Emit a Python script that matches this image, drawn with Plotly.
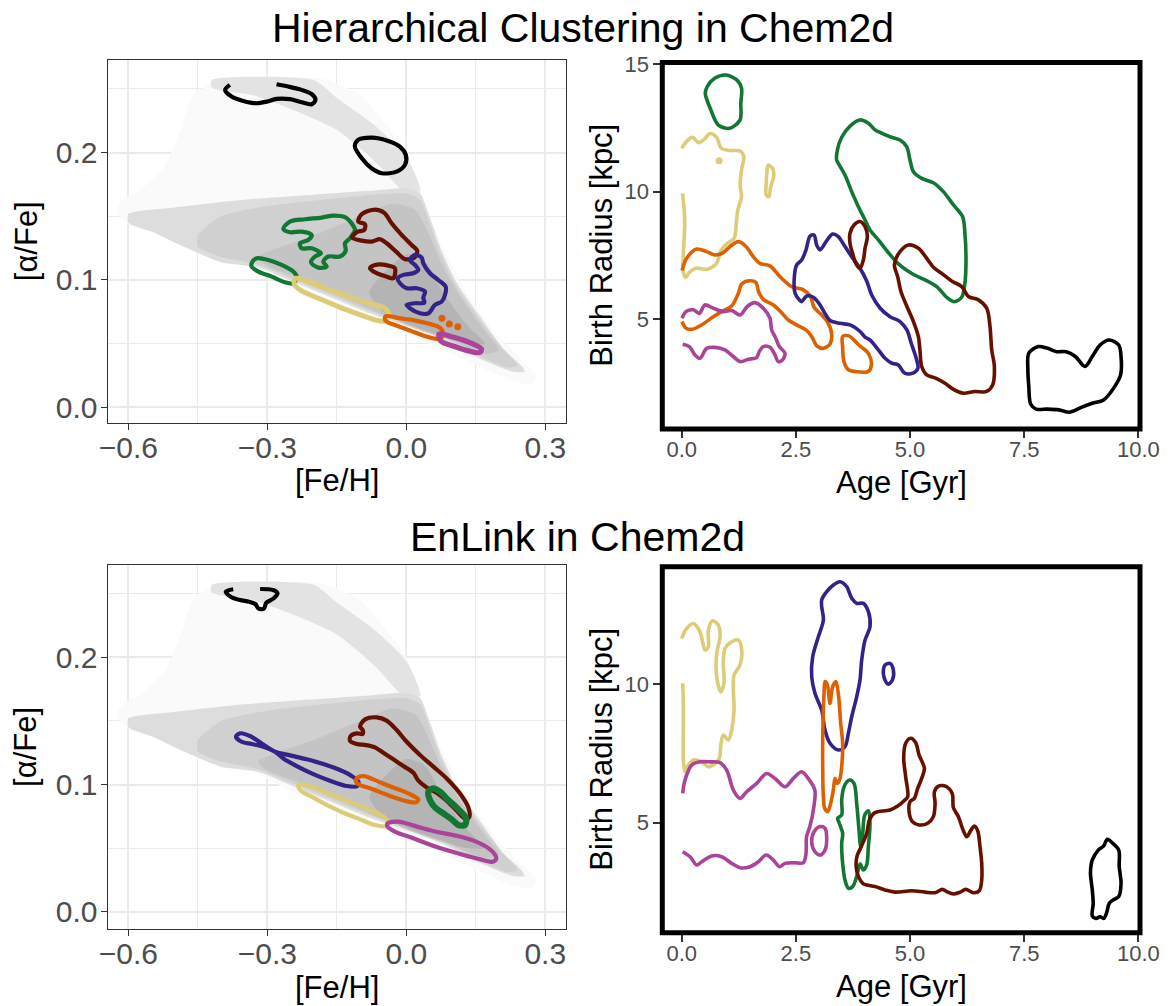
import plotly.graph_objects as go

FONT = "Liberation Sans"
BLACK = "#000000"; GREEN = "#117733"; BROWN = "#661100"; INDIGO = "#332288"
ORANGE = "#DD6100"; SAND = "#DDCC77"; MAGENTA = "#AA4499"

# ---------------- density background (Chem2d plane) ----------------
DENS_SPARSE_X = [-0.62, -0.57, -0.52, -0.49, -0.46, -0.40, -0.30, -0.18, -0.10, -0.05, 0.00, 0.03, 0.05, 0.08, 0.13, 0.19, 0.24, 0.28, 0.27, 0.22, 0.14, 0.05, -0.05, -0.15, -0.25, -0.33, -0.40, -0.50, -0.58, -0.62]
DENS_SPARSE_Y = [0.160, 0.172, 0.19, 0.215, 0.245, 0.258, 0.259, 0.258, 0.245, 0.225, 0.20, 0.17, 0.15, 0.125, 0.09, 0.06, 0.04, 0.025, 0.018, 0.022, 0.035, 0.05, 0.065, 0.08, 0.095, 0.11, 0.125, 0.135, 0.14, 0.15]
DENS_BAND_X = [-0.42, -0.20, -0.15, -0.07, 0.00, 0.03, 0.00, -0.07, -0.15, -0.24, -0.33, -0.42]
DENS_BAND_Y = [0.257, 0.257, 0.243, 0.222, 0.197, 0.17, 0.168, 0.194, 0.218, 0.233, 0.245, 0.251]
DENS_TRI_X = [-0.60, -0.50, -0.35, -0.20, -0.08, 0.00, 0.03, 0.05, 0.075, 0.11, 0.16, 0.21, 0.25, 0.255, 0.23, 0.16, 0.08, 0.00, -0.08, -0.16, -0.24, -0.32, -0.40, -0.48, -0.55, -0.60]
DENS_TRI_Y = [0.152, 0.157, 0.163, 0.167, 0.170, 0.172, 0.168, 0.15, 0.124, 0.097, 0.071, 0.046, 0.032, 0.028, 0.028, 0.038, 0.053, 0.064, 0.074, 0.086, 0.098, 0.110, 0.114, 0.126, 0.138, 0.145]
DENS_MID_X = [-0.45, -0.40, -0.30, -0.18, -0.07, 0.00, 0.03, 0.05, 0.075, 0.11, 0.16, 0.21, 0.24, 0.22, 0.16, 0.08, 0.00, -0.08, -0.16, -0.24, -0.32, -0.40, -0.45]
DENS_MID_Y = [0.135, 0.150, 0.158, 0.163, 0.167, 0.168, 0.163, 0.145, 0.120, 0.094, 0.068, 0.045, 0.033, 0.031, 0.040, 0.055, 0.066, 0.076, 0.088, 0.100, 0.112, 0.118, 0.126]
DENS_CORE_X = [-0.32, -0.20, -0.10, -0.03, 0.02, 0.05, 0.08, 0.12, 0.17, 0.20, 0.17, 0.10, 0.02, -0.06, -0.14, -0.22, -0.30]
DENS_CORE_Y = [0.118, 0.135, 0.150, 0.160, 0.155, 0.135, 0.110, 0.085, 0.060, 0.045, 0.042, 0.052, 0.062, 0.074, 0.087, 0.100, 0.111]
DENS_DARK_X = [-0.05, 0.00, 0.04, 0.08, 0.13, 0.17, 0.13, 0.06, 0.00, -0.05, -0.08]
DENS_DARK_Y = [0.105, 0.120, 0.115, 0.090, 0.065, 0.050, 0.050, 0.058, 0.066, 0.075, 0.090]
DENS_LAYERS = [(DENS_SPARSE_X, DENS_SPARSE_Y, "#FAFAFA"), (DENS_BAND_X, DENS_BAND_Y, "#E3E3E3"),
               (DENS_TRI_X, DENS_TRI_Y, "#DDDDDD"), (DENS_MID_X, DENS_MID_Y, "#D0D0D0"),
               (DENS_CORE_X, DENS_CORE_Y, "#C4C4C4"), (DENS_DARK_X, DENS_DARK_Y, "#B4B4B4")]

# ---------------- Panel 1: Hierarchical clustering, [Fe/H] vs [alpha/Fe] ----------------
P1_BLACK_A = ([-0.381, -0.391, -0.377, -0.352, -0.323, -0.301, -0.280, -0.251, -0.226, -0.204, -0.196, -0.204, -0.226, -0.255, -0.280],
              [0.2532, 0.2493, 0.2440, 0.2406, 0.2388, 0.2401, 0.2422, 0.2420, 0.2396, 0.2380, 0.2414, 0.2459, 0.2493, 0.2519, 0.2537])
P1_BLACK_B = ([-0.075, -0.039, -0.014, -0.001, -0.003, -0.021, -0.053, -0.075, -0.096, -0.111, -0.104],
              [0.2118, 0.2092, 0.2048, 0.1982, 0.1904, 0.1851, 0.1838, 0.1877, 0.1956, 0.2048, 0.2100])
P1_GREEN_A = ([-0.2655, -0.2511, -0.2187, -0.1827, -0.1576, -0.1324, -0.1165, -0.1108, -0.1216, -0.1324, -0.1309, -0.1432, -0.1683, -0.1791, -0.1719, -0.1899, -0.2058, -0.1971, -0.1842, -0.2043, -0.2259, -0.2295, -0.2115, -0.2043, -0.2259, -0.2511],
              [0.1401, 0.1459, 0.1477, 0.1490, 0.1506, 0.1493, 0.1437, 0.1393, 0.1328, 0.1288, 0.1228, 0.1184, 0.1184, 0.1144, 0.1105, 0.1097, 0.1139, 0.1184, 0.1210, 0.1249, 0.1249, 0.1288, 0.1314, 0.1354, 0.1380, 0.1375])
P1_GREEN_B = ([-0.3338, -0.3230, -0.2978, -0.2691, -0.2439, -0.2367, -0.2439, -0.2619, -0.2906, -0.3194, -0.3338],
              [0.1131, 0.1170, 0.1157, 0.1118, 0.1066, 0.1026, 0.0974, 0.0982, 0.1026, 0.1066, 0.1105])
P1_BROWN_A = ([-0.0964, -0.0676, -0.0475, -0.0317, -0.0101, 0.0115, 0.0237, 0.0173, -0.0029, -0.0209, -0.0424, -0.0568, -0.0748, -0.0964, -0.1165, -0.1072, -0.0906, -0.0892, -0.1036],
              [0.1516, 0.1553, 0.1527, 0.1445, 0.1354, 0.1275, 0.1228, 0.1176, 0.1163, 0.1218, 0.1288, 0.1320, 0.1301, 0.1309, 0.1333, 0.1375, 0.1393, 0.1438, 0.1459])
P1_BROWN_B = ([-0.0784, -0.0676, -0.0388, -0.0245, -0.0281, -0.0424, -0.0640],
              [0.1092, 0.1118, 0.1113, 0.1092, 0.1013, 0.1026, 0.1053])
P1_INDIGO = ([0.0187, 0.0331, 0.0367, 0.0511, 0.0691, 0.0849, 0.0835, 0.0763, 0.0619, 0.0475, 0.0295, 0.0079, 0.0007, 0.0173, 0.0388, 0.0367, 0.0403, 0.0223, 0.0007, -0.0137, -0.0187, -0.0065, 0.0151, 0.0259, 0.0187, 0.0079],
             [0.1197, 0.1176, 0.1131, 0.1053, 0.1000, 0.0948, 0.0882, 0.0830, 0.0804, 0.0738, 0.0738, 0.0778, 0.0804, 0.0817, 0.0822, 0.0861, 0.0909, 0.0935, 0.0935, 0.0974, 0.1013, 0.1040, 0.1053, 0.1079, 0.1118, 0.1157])
P1_SAND = ([-0.2403, -0.2223, -0.1755, -0.1252, -0.0820, -0.0460, -0.0374, -0.0460, -0.0676, -0.1036, -0.1468, -0.1899, -0.2259, -0.2417],
           [0.1013, 0.1000, 0.0935, 0.0869, 0.0817, 0.0778, 0.0725, 0.0678, 0.0686, 0.0731, 0.0791, 0.0856, 0.0914, 0.0966])
P1_ORANGE = ([-0.045, -0.015, 0.015, 0.045, 0.070, 0.078, 0.075, 0.060, 0.040, 0.010, -0.020, -0.045],
             [0.0715, 0.0700, 0.0685, 0.0660, 0.0630, 0.0600, 0.0540, 0.0540, 0.0560, 0.0600, 0.0640, 0.0680])
P1_ORANGE_DOTS = ([0.077, 0.093, 0.111], [0.0699, 0.0655, 0.0633])
P1_MAGENTA = ([0.0708, 0.1027, 0.1425, 0.1623, 0.1584, 0.1345, 0.1027, 0.0748],
              [0.0575, 0.0550, 0.0500, 0.0458, 0.0430, 0.0443, 0.0480, 0.0518])

# ---------------- Panel 2: Hierarchical clustering, Age vs Birth radius ----------------
P2_GREEN_A = ([0.557, 0.721, 0.966, 1.212, 1.310, 1.294, 1.278, 1.048, 0.803, 0.639, 0.516],
              [14.11, 14.44, 14.57, 14.37, 14.05, 13.46, 12.81, 12.48, 12.61, 13.20, 13.85])
P2_SAND = ([0.0, 0.106, 0.229, 0.377, 0.491, 0.622, 0.762, 0.868, 1.048, 1.278, 1.360, 1.310, 1.278, 1.310, 1.228, 1.196, 1.147, 1.007, 0.868, 0.762, 0.557, 0.311, 0.164, 0.090, 0.033, 0.041, 0.066, 0.049, 0.016],
           [11.70, 11.96, 12.13, 11.92, 12.05, 12.28, 12.13, 11.70, 11.61, 11.59, 11.37, 10.85, 10.26, 9.80, 9.28, 8.76, 8.17, 7.98, 7.72, 7.19, 6.96, 7.00, 6.83, 6.64, 6.87, 7.72, 8.76, 9.41, 9.93])
P2_SAND_DOT = ([0.819], [11.21])
P2_SAND_B = ([1.892, 1.990, 2.015, 1.949, 1.908, 1.851, 1.851, 1.867],
             [11.04, 10.91, 10.59, 10.20, 9.80, 9.87, 10.33, 10.78])
P2_ORANGE_A = ([0.007, 0.109, 0.328, 0.547, 0.730, 0.912, 1.058, 1.241, 1.408, 1.568, 1.714, 1.933, 2.152, 2.408, 2.664, 2.824, 2.897, 3.042, 3.188, 3.283, 3.247, 3.100, 2.957, 2.847, 2.722, 2.517, 2.335, 2.167, 2.006, 1.786, 1.684, 1.626, 1.494, 1.312, 1.241, 1.094, 0.912, 0.693, 0.436, 0.232, 0.094, 0.007],
               [6.91, 7.39, 7.75, 7.65, 7.52, 7.61, 7.85, 8.04, 7.85, 7.45, 7.19, 7.09, 6.67, 6.28, 6.15, 5.89, 5.47, 5.21, 4.91, 4.45, 4.03, 3.86, 3.96, 4.32, 4.58, 4.78, 4.97, 5.30, 5.56, 5.78, 6.08, 6.44, 6.51, 6.38, 6.02, 5.52, 5.34, 5.10, 4.78, 4.61, 4.65, 4.91])
P2_ORANGE_B = ([3.523, 3.661, 3.878, 4.085, 4.154, 4.085, 3.878, 3.651, 3.553, 3.523],
               [4.32, 4.35, 3.99, 3.67, 3.21, 2.95, 2.94, 3.02, 3.34, 3.93])
P2_MAGENTA = ([0.007, 0.094, 0.255, 0.384, 0.509, 0.693, 0.912, 1.094, 1.277, 1.437, 1.605, 1.786, 1.933, 1.970, 2.043, 2.137, 2.261, 2.210, 2.115, 2.043, 1.933, 1.786, 1.698, 1.640, 1.457, 1.277, 1.130, 0.947, 0.730, 0.546, 0.400, 0.291, 0.167, 0.021],
              [5.04, 5.30, 5.37, 5.23, 5.56, 5.43, 5.30, 5.34, 5.17, 5.50, 5.65, 5.43, 5.04, 4.58, 4.32, 3.93, 3.67, 3.41, 3.34, 3.60, 3.90, 3.93, 3.73, 3.50, 3.43, 3.34, 3.54, 3.80, 3.90, 3.86, 3.47, 3.60, 3.93, 4.02])
P2_INDIGO = ([2.592, 2.482, 2.467, 2.518, 2.627, 2.722, 2.810, 2.897, 2.955, 3.029, 3.160, 3.305, 3.429, 3.554, 3.722, 3.904, 4.050, 4.160, 4.346, 4.561, 4.780, 4.931, 5.026, 5.135, 5.172, 5.063, 4.880, 4.744, 4.598, 4.452, 4.306, 4.122, 4.014, 3.904, 3.685, 3.466, 3.247, 3.137, 3.029, 2.883, 2.737, 2.627],
             [5.73, 6.02, 6.67, 7.13, 7.32, 7.72, 8.26, 8.30, 7.91, 7.72, 8.04, 8.34, 8.24, 7.91, 7.45, 7.00, 6.50, 5.95, 5.43, 5.10, 4.91, 4.58, 4.06, 3.47, 3.08, 2.89, 2.89, 3.21, 3.28, 3.47, 3.80, 4.19, 4.30, 4.52, 4.78, 4.84, 4.95, 5.23, 5.56, 5.86, 5.91, 5.69])
P2_GREEN_B = ([3.393, 3.408, 3.503, 3.686, 3.904, 4.087, 4.233, 4.306, 4.561, 4.780, 4.926, 4.999, 5.074, 5.255, 5.510, 5.729, 5.950, 6.151, 6.201, 6.225, 6.201, 6.130, 5.969, 5.802, 5.583, 5.328, 5.028, 4.744, 4.540, 4.306, 4.123, 4.014, 3.868, 3.722, 3.575, 3.451],
              [11.24, 11.63, 12.13, 12.57, 12.81, 12.68, 12.42, 12.35, 12.15, 12.02, 11.76, 11.24, 10.78, 10.52, 10.35, 10.00, 9.48, 9.02, 8.37, 7.32, 6.41, 5.86, 5.69, 5.86, 6.28, 6.54, 6.80, 7.17, 7.58, 8.11, 8.50, 8.89, 9.41, 10.00, 10.65, 11.04])
P2_BROWN_A = ([3.685, 3.773, 3.904, 4.014, 4.065, 4.014, 3.977, 3.904, 3.816, 3.743, 3.685],
              [8.37, 8.69, 8.83, 8.63, 8.24, 7.78, 7.32, 7.00, 7.17, 7.58, 7.97])
P2_BROWN_B = ([4.656, 4.744, 4.963, 5.182, 5.365, 5.511, 5.707, 5.927, 6.132, 6.278, 6.497, 6.679, 6.751, 6.788, 6.846, 6.809, 6.679, 6.423, 6.167, 5.970, 5.765, 5.560, 5.365, 5.255, 5.219, 5.182, 5.074, 4.927, 4.802, 4.729],
              [7.13, 7.56, 7.91, 7.78, 7.39, 7.04, 6.78, 6.48, 6.28, 5.89, 5.76, 5.43, 4.71, 3.80, 3.15, 2.43, 2.17, 2.17, 2.10, 2.23, 2.49, 2.69, 2.82, 3.15, 3.73, 4.32, 4.91, 5.52, 6.08, 6.67])
P2_BLACK = ([7.60, 7.81, 8.01, 8.21, 8.42, 8.62, 8.83, 8.99, 9.16, 9.36, 9.57, 9.62, 9.61, 9.48, 9.24, 8.99, 8.75, 8.50, 8.26, 8.01, 7.76, 7.64, 7.60, 7.58],
            [3.67, 3.93, 3.86, 3.73, 3.73, 3.54, 3.15, 3.54, 3.99, 4.19, 3.99, 3.54, 2.82, 2.36, 1.84, 1.71, 1.55, 1.36, 1.45, 1.48, 1.48, 1.68, 2.36, 3.02])

# ---------------- Panel 3: EnLink, [Fe/H] vs [alpha/Fe] ----------------
P3_BLACK = ([-0.3736, -0.3896, -0.3792, -0.3592, -0.3393, -0.3259, -0.3194, -0.3076, -0.3020, -0.2861, -0.2781, -0.2875, -0.3155],
            [0.2535, 0.2516, 0.2476, 0.2450, 0.2437, 0.2419, 0.2385, 0.2382, 0.2429, 0.2464, 0.2503, 0.2529, 0.2537])
P3_INDIGO = ([-0.3676, -0.3589, -0.3374, -0.3122, -0.2834, -0.2510, -0.2150, -0.1791, -0.1431, -0.1179, -0.1035, -0.1057, -0.1287, -0.1647, -0.2007, -0.2366, -0.2654, -0.2834, -0.3086, -0.3338, -0.3553],
             [0.1376, 0.1402, 0.1381, 0.1323, 0.1258, 0.1229, 0.1198, 0.1161, 0.1114, 0.1067, 0.1022, 0.0988, 0.0988, 0.1030, 0.1082, 0.1145, 0.1205, 0.1258, 0.1297, 0.1318, 0.1336])
P3_ORANGE = ([-0.1071, -0.0927, -0.0712, -0.0424, -0.0136, 0.0116, 0.0260, 0.0209, 0.0044, -0.0208, -0.0496, -0.0783, -0.0999, -0.1086],
             [0.1048, 0.1067, 0.1040, 0.0996, 0.0957, 0.0917, 0.0883, 0.0860, 0.0865, 0.0891, 0.0930, 0.0970, 0.0996, 0.1022])
P3_SAND = ([-0.2330, -0.2150, -0.1863, -0.1503, -0.1143, -0.0784, -0.0496, -0.0388, -0.0438, -0.0676, -0.0999, -0.1359, -0.1719, -0.2043, -0.2294],
           [0.0996, 0.0996, 0.0957, 0.0904, 0.0852, 0.0799, 0.0747, 0.0708, 0.0673, 0.0681, 0.0726, 0.0778, 0.0839, 0.0904, 0.0957])
P3_BROWN = ([-0.0999, -0.0891, -0.0640, -0.0424, -0.0208, 0.0008, 0.0296, 0.0584, 0.0871, 0.1159, 0.1339, 0.1361, 0.1274, 0.1087, 0.0871, 0.0656, 0.0440, 0.0260, 0.0152, -0.0064, -0.0280, -0.0496, -0.0676, -0.0870, -0.1071, -0.1215, -0.1201, -0.1071, -0.0942, -0.0942],
            [0.1454, 0.1512, 0.1528, 0.1502, 0.1428, 0.1336, 0.1232, 0.1140, 0.1048, 0.0930, 0.0820, 0.0747, 0.0731, 0.0794, 0.0873, 0.0936, 0.0977, 0.1030, 0.1093, 0.1145, 0.1198, 0.1250, 0.1292, 0.1310, 0.1318, 0.1344, 0.1381, 0.1402, 0.1397, 0.1428])
P3_GREEN = ([0.0476, 0.0584, 0.0728, 0.0907, 0.1123, 0.1289, 0.1267, 0.1123, 0.0979, 0.0799, 0.0619, 0.0511],
            [0.0943, 0.0970, 0.0943, 0.0878, 0.0805, 0.0734, 0.0681, 0.0681, 0.0726, 0.0773, 0.0820, 0.0878])
P3_MAGENTA = ([-0.0406, -0.0168, 0.0231, 0.0628, 0.1106, 0.1505, 0.1823, 0.1943, 0.1863, 0.1505, 0.1106, 0.0628, 0.0151, -0.0248, -0.0406],
              [0.0694, 0.0708, 0.0669, 0.0630, 0.0595, 0.0551, 0.0485, 0.0420, 0.0393, 0.0420, 0.0459, 0.0512, 0.0577, 0.0630, 0.0669])

# ---------------- Panel 4: EnLink, Age vs Birth radius ----------------
P4_SAND = ([0.0, 0.094, 0.255, 0.401, 0.511, 0.583, 0.583, 0.678, 0.803, 0.839, 0.766, 0.766, 0.854, 0.926, 0.912, 0.948, 1.094, 1.240, 1.314, 1.277, 1.146, 1.131, 1.146, 1.094, 1.021, 0.912, 0.861, 0.824, 0.730, 0.583, 0.437, 0.255, 0.145, 0.072, 0.036, 0.036, 0.036, 0.021],
           [11.66, 11.99, 12.20, 11.90, 11.24, 11.36, 11.96, 12.30, 12.14, 11.72, 11.12, 10.28, 9.73, 10.04, 10.76, 11.30, 11.54, 11.60, 11.24, 10.70, 10.34, 9.80, 9.07, 8.35, 7.99, 8.17, 7.87, 7.33, 7.14, 7.02, 7.20, 7.27, 7.08, 6.84, 7.27, 8.35, 9.31, 10.04])
P4_MAGENTA = ([0.021, 0.072, 0.218, 0.401, 0.620, 0.839, 0.985, 1.131, 1.277, 1.422, 1.641, 1.860, 2.043, 2.262, 2.445, 2.627, 2.769, 2.915, 2.894, 2.806, 2.733, 2.722, 2.663, 2.481, 2.262, 2.138, 2.007, 1.846, 1.679, 1.495, 1.277, 1.094, 0.876, 0.656, 0.437, 0.328, 0.182, 0.021],
              [6.06, 6.54, 7.08, 7.20, 7.20, 7.17, 6.90, 6.18, 5.88, 6.12, 6.42, 6.78, 6.60, 6.30, 6.60, 6.84, 6.60, 6.18, 5.58, 4.86, 4.49, 3.89, 3.55, 3.55, 3.53, 3.41, 3.65, 3.83, 3.59, 3.41, 3.37, 3.53, 3.77, 3.80, 3.59, 3.47, 3.77, 3.95])
P4_MAGENTA_B = ([3.029, 3.137, 3.175, 3.137, 3.029, 2.919, 2.846, 2.897],
                [4.86, 4.80, 4.43, 4.01, 3.83, 3.95, 4.31, 4.67])
P4_INDIGO = ([3.065, 3.175, 3.321, 3.466, 3.612, 3.722, 3.831, 3.977, 4.087, 4.123, 4.014, 3.941, 3.904, 3.831, 3.722, 3.649, 3.575, 3.429, 3.247, 3.137, 3.065, 2.919, 2.846, 2.868, 2.992, 3.102, 3.065],
             [13.05, 13.35, 13.59, 13.71, 13.53, 13.11, 12.93, 12.93, 12.63, 12.08, 11.60, 10.88, 10.16, 9.55, 8.83, 8.23, 7.75, 7.63, 7.87, 8.35, 9.07, 9.67, 10.28, 11.00, 11.72, 12.33, 12.81])
P4_INDIGO_B = ([4.452, 4.561, 4.634, 4.613, 4.525, 4.437, 4.415],
               [10.70, 10.76, 10.52, 10.16, 10.01, 10.22, 10.52])
P4_ORANGE = ([3.137, 3.189, 3.247, 3.305, 3.378, 3.437, 3.481, 3.524, 3.509, 3.466, 3.408, 3.357, 3.320, 3.262, 3.196, 3.131, 3.102, 3.088, 3.088, 3.102, 3.117],
             [10.10, 9.98, 9.31, 9.92, 10.10, 9.55, 8.59, 7.87, 7.14, 6.60, 6.42, 6.60, 6.18, 5.70, 5.40, 5.52, 5.94, 6.90, 8.11, 9.07, 9.67])
P4_GREEN = ([3.503, 3.555, 3.672, 3.773, 3.831, 3.876, 3.919, 3.963, 4.007, 4.087, 4.123, 4.087, 4.050, 3.977, 3.904, 3.831, 3.743, 3.649, 3.575, 3.524, 3.503, 3.524, 3.451, 3.414, 3.503],
            [5.82, 6.30, 6.54, 6.42, 5.70, 4.86, 4.13, 4.61, 5.28, 5.43, 4.98, 4.13, 3.47, 3.29, 3.51, 3.05, 2.69, 2.63, 2.93, 3.53, 4.25, 4.61, 4.98, 5.16, 5.28])
P4_BROWN = ([3.97, 3.87, 3.82, 3.84, 3.93, 4.05, 4.11, 4.21, 4.306, 4.561, 4.730, 4.876, 4.949, 4.904, 4.861, 4.904, 5.014, 5.124, 5.197, 5.314, 5.255, 5.167, 5.095, 5.000, 4.978, 5.050, 5.196, 5.387, 5.511, 5.548, 5.533, 5.634, 5.802, 5.926, 5.948, 6.057, 6.167, 6.240, 6.334, 6.407, 6.481, 6.532, 6.569, 6.569, 6.517, 6.386, 6.219, 6.095, 5.948, 5.802, 5.707, 5.548, 5.328, 5.035, 4.670, 4.452, 4.233, 4.050],
            [2.80, 3.05, 3.40, 3.80, 4.13, 4.61, 5.10, 5.34, 5.40, 5.46, 5.60, 5.80, 5.94, 6.66, 7.33, 7.87, 8.05, 7.89, 7.45, 6.96, 6.60, 6.24, 5.88, 5.76, 5.40, 5.04, 4.92, 4.98, 5.22, 5.70, 6.12, 6.33, 6.30, 6.04, 5.55, 5.22, 4.71, 4.49, 4.73, 4.88, 4.71, 4.13, 3.53, 2.93, 2.54, 2.47, 2.59, 2.49, 2.42, 2.51, 2.59, 2.47, 2.49, 2.54, 2.49, 2.57, 2.69, 2.75])
P4_BLACK = ([8.99, 9.12, 9.24, 9.32, 9.44, 9.57, 9.58, 9.62, 9.57, 9.44, 9.36, 9.30, 9.24, 9.16, 9.07, 8.99, 9.01, 8.99, 8.95, 8.97],
            [3.65, 4.01, 4.16, 4.40, 4.25, 4.01, 3.41, 2.81, 2.33, 2.20, 2.08, 1.72, 1.54, 1.60, 1.54, 1.63, 2.08, 2.57, 3.17, 3.53])

# ---------------- tick labels ----------------
FEH_TICKS = [-0.6, -0.3, 0.0, 0.3]; FEH_LABELS = ["\u22120.6", "\u22120.3", "0.0", "0.3"]
ALPHA_TICKS = [0.0, 0.1, 0.2]; ALPHA_LABELS = ["0.0", "0.1", "0.2"]
AGE_TICKS = [0, 2.5, 5, 7.5, 10]; AGE_LABELS = ["0.0", "2.5", "5.0", "7.5", "10.0"]
R_TICKS_TOP = [5, 10, 15]; R_TICKS_BOTTOM = [5, 10]

fig = go.Figure()


def closed(c):
    xs, ys = c
    return list(xs) + [xs[0]], list(ys) + [ys[0]]


def add_line(c, color, ax, width, close=True):
    xs, ys = closed(c) if close else c
    fig.add_trace(go.Scatter(x=xs, y=ys, mode="lines", xaxis=ax[0], yaxis=ax[1],
                             line=dict(color=color, width=width, shape="spline", smoothing=0.9),
                             hoverinfo="skip", showlegend=False))


def add_dots(c, color, ax, size):
    fig.add_trace(go.Scatter(x=c[0], y=c[1], mode="markers", xaxis=ax[0], yaxis=ax[1],
                             marker=dict(color=color, size=size), hoverinfo="skip", showlegend=False))


def add_density(ax):
    for xs, ys, col in DENS_LAYERS:
        cx, cy = closed((xs, ys))
        fig.add_trace(go.Scatter(x=cx, y=cy, mode="lines", fill="toself", fillcolor=col,
                                 line=dict(width=0, color=col, shape="spline", smoothing=0.6),
                                 xaxis=ax[0], yaxis=ax[1], hoverinfo="skip", showlegend=False))


A1 = ("x", "y"); A2 = ("x2", "y2"); A3 = ("x3", "y3"); A4 = ("x4", "y4")
LW_L = 4.2; LW_R = 3.6

# Panel 1
add_density(A1)
add_line(P1_BLACK_A, BLACK, A1, LW_L, close=False)
add_line(P1_BLACK_B, BLACK, A1, LW_L)
add_line(P1_GREEN_A, GREEN, A1, LW_L)
add_line(P1_GREEN_B, GREEN, A1, LW_L)
add_line(P1_BROWN_A, BROWN, A1, LW_L)
add_line(P1_BROWN_B, BROWN, A1, LW_L)
add_line(P1_INDIGO, INDIGO, A1, LW_L)
add_line(P1_SAND, SAND, A1, LW_L + 0.8)
add_line(P1_ORANGE, ORANGE, A1, LW_L)
add_dots(P1_ORANGE_DOTS, ORANGE, A1, 7)
add_line(P1_MAGENTA, MAGENTA, A1, LW_L + 1)

# Panel 2
add_line(P2_GREEN_A, GREEN, A2, LW_R)
add_line(P2_SAND, SAND, A2, LW_R, close=False)
add_dots(P2_SAND_DOT, SAND, A2, 7)
add_line(P2_SAND_B, SAND, A2, LW_R)
add_line(P2_ORANGE_A, ORANGE, A2, LW_R, close=False)
add_line(P2_ORANGE_B, ORANGE, A2, LW_R)
add_line(P2_MAGENTA, MAGENTA, A2, LW_R, close=False)
add_line(P2_INDIGO, INDIGO, A2, LW_R)
add_line(P2_GREEN_B, GREEN, A2, LW_R)
add_line(P2_BROWN_A, BROWN, A2, LW_R)
add_line(P2_BROWN_B, BROWN, A2, LW_R)
add_line(P2_BLACK, BLACK, A2, LW_R)

# Panel 3
add_density(A3)
add_line(P3_BLACK, BLACK, A3, LW_L, close=False)
add_line(P3_INDIGO, INDIGO, A3, LW_L)
add_line(P3_ORANGE, ORANGE, A3, LW_L)
add_line(P3_SAND, SAND, A3, LW_L)
add_line(P3_BROWN, BROWN, A3, LW_L)
add_line(P3_GREEN, GREEN, A3, LW_L + 2)
add_line(P3_MAGENTA, MAGENTA, A3, LW_L)

# Panel 4
add_line(P4_SAND, SAND, A4, LW_R, close=False)
add_line(P4_MAGENTA, MAGENTA, A4, LW_R, close=False)
add_line(P4_MAGENTA_B, MAGENTA, A4, LW_R)
add_line(P4_INDIGO, INDIGO, A4, LW_R)
add_line(P4_INDIGO_B, INDIGO, A4, LW_R)
add_line(P4_ORANGE, ORANGE, A4, LW_R)
add_line(P4_GREEN, GREEN, A4, LW_R)
add_line(P4_BROWN, BROWN, A4, LW_R)
add_line(P4_BLACK, BLACK, A4, LW_R)

W, H = 1168, 1006
TICK_COL = "#4D4D4D"
GRID = "#EBEBEB"
RX0, RX1 = 662.3, 1140.0


def left_x(anchor):
    return dict(domain=[107.7 / W, 566 / W], range=[-0.6445, 0.3447], anchor=anchor,
                tickmode="array", tickvals=FEH_TICKS, ticktext=FEH_LABELS,
                showgrid=True, gridcolor=GRID, gridwidth=1.6, zeroline=False,
                minor=dict(tickmode="array", tickvals=[-0.45, -0.15, 0.15], showgrid=True, gridcolor=GRID, gridwidth=1.3, ticks=""),
                showline=True, mirror=True, linecolor="#333333", linewidth=1.4,
                ticks="outside", ticklen=6, tickwidth=1.4, tickcolor="#333333",
                ticklabelstandoff=-8,
                tickfont=dict(family=FONT, size=30, color=TICK_COL))


def left_y(dom, rng, anchor):
    return dict(domain=dom, range=rng, anchor=anchor,
                tickmode="array", tickvals=ALPHA_TICKS, ticktext=ALPHA_LABELS,
                showgrid=True, gridcolor=GRID, gridwidth=1.6, zeroline=False,
                minor=dict(tickmode="array", tickvals=[0.05, 0.15, 0.25], showgrid=True, gridcolor=GRID, gridwidth=1.3, ticks=""),
                showline=True, mirror=True, linecolor="#333333", linewidth=1.4,
                ticks="outside", ticklen=6, tickwidth=1.4, tickcolor="#333333",
                ticklabelstandoff=-3,
                tickfont=dict(family=FONT, size=30, color=TICK_COL))


def right_x(anchor):
    return dict(domain=[RX0 / W, RX1 / W], range=[-0.425, 10.035], anchor=anchor,
                tickmode="array", tickvals=AGE_TICKS, ticktext=AGE_LABELS,
                showgrid=False, zeroline=False, showline=False,
                ticks="outside", ticklen=8, tickwidth=1.6, tickcolor="#333333",
                ticklabelstandoff=-7,
                tickfont=dict(family=FONT, size=22, color=TICK_COL))


def right_y(dom, rng, ticks, anchor):
    return dict(domain=dom, range=rng, anchor=anchor,
                tickmode="array", tickvals=ticks, ticktext=[str(t) for t in ticks],
                showgrid=False, zeroline=False, showline=False,
                ticks="outside", ticklen=8, tickwidth=1.6, tickcolor="#333333",
                tickfont=dict(family=FONT, size=22, color=TICK_COL))


fig.update_layout(
    width=W, height=H, margin=dict(l=0, r=0, t=0, b=0, autoexpand=False),
    paper_bgcolor="white", plot_bgcolor="white", showlegend=False,
    xaxis=left_x("y"),
    yaxis=left_y([1 - 422.7 / H, 1 - 59.7 / H], [-0.0121, 0.2730], "x"),
    xaxis2=right_x("y2"),
    yaxis2=right_y([1 - 429 / H, 1 - 62.5 / H], [0.70, 15.06], R_TICKS_TOP, "x2"),
    xaxis3=left_x("y3"),
    yaxis3=left_y([1 - 929 / H, 1 - 564.7 / H], [-0.0136, 0.2728], "x3"),
    xaxis4=right_x("y4"),
    yaxis4=right_y([1 - 932.8 / H, 1 - 566.8 / H], [1.02, 14.25], R_TICKS_BOTTOM, "x4"),
)

for xr, yr in [("x2 domain", "y2 domain"), ("x4 domain", "y4 domain")]:
    fig.add_shape(type="rect", xref=xr, yref=yr, x0=0, x1=1, y0=0, y1=1,
                  line=dict(color="black", width=5), layer="above")


def ann(text, x, y, size, angle=0, color="black"):
    fig.add_annotation(text=text, x=x / W, y=1 - y / H, xref="paper", yref="paper",
                       showarrow=False, textangle=angle, xanchor="center", yanchor="middle",
                       font=dict(family=FONT, size=size, color=color))


ann("Hierarchical Clustering in Chem2d", 583, 28, 41)
ann("EnLink in Chem2d", 577, 537, 41)
ann("[Fe/H]", 336.9, 480, 31)
ann("[Fe/H]", 336.9, 987, 31)
ann("[\u03b1/Fe]", 26, 241.2, 31, angle=-90)
ann("[\u03b1/Fe]", 26, 746.9, 31, angle=-90)
ann("Age [Gyr]", (RX0 + RX1) / 2, 483, 31)
ann("Age [Gyr]", (RX0 + RX1) / 2, 986, 31)
ann("Birth Radius [kpc]", 602, 245.7, 31, angle=-90)
ann("Birth Radius [kpc]", 602, 749.8, 31, angle=-90)

fig.write_html("out.html", config={"displayModeBar": False},
               post_script="document.body.style.margin='0px';document.body.style.overflow='hidden';")
